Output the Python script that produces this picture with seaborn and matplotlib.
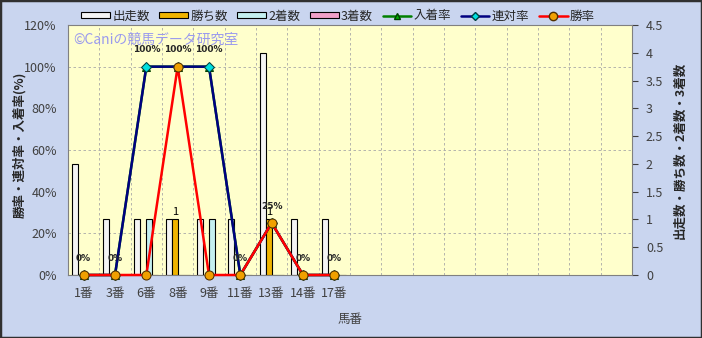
import numpy as np
import pandas as pd
import matplotlib
matplotlib.use("Agg")
import matplotlib.pyplot as plt
from matplotlib.ticker import FixedLocator
from matplotlib.patches import Patch, Rectangle
from matplotlib.lines import Line2D
import seaborn as sns

# ---------------- data ----------------
horses = ["1番", "3番", "6番", "8番", "9番", "11番", "13番", "14番", "17番"]
n_slots = 18
runs = [2, 1, 1, 1, 1, 1, 4, 1, 1]          # 出走数
wins = [0, 0, 0, 1, 0, 0, 1, 0, 0]          # 勝ち数
seconds = [0, 0, 1, 0, 1, 0, 0, 0, 0]       # 2着数
thirds = [0, 0, 0, 0, 0, 0, 0, 0, 0]        # 3着数
place_rate = [0, 0, 100, 100, 100, 0, 25, 0, 0]   # 入着率
rentai_rate = [0, 0, 100, 100, 100, 0, 25, 0, 0]  # 連対率
win_rate = [0, 0, 0, 100, 0, 0, 25, 0, 0]         # 勝率

bar_names = ["出走数", "勝ち数", "2着数", "3着数"]
bar_colors = ["#f4f4f4", "#f0b400", "#c4f0f0", "#f0a0c8"]
pct_max, cnt_max = 120, 4.5

sns.set_style("white")
plt.rcParams["font.family"] = ["Noto Sans CJK JP", "DejaVu Sans"]

pos = np.arange(len(horses))
df = pd.DataFrame({
    "pos": np.tile(pos, 4),
    "series": np.repeat(bar_names, len(horses)),
    "value": runs + wins + seconds + thirds,
})

bg = "#c9d5ef"
fig = plt.figure(figsize=(7.02, 3.38), dpi=100, facecolor=bg)
axb = fig.add_axes([68 / 702, 1 - 275 / 338, 564 / 702, 250 / 338])
axb.set_facecolor("#ffffcc")

sns.barplot(data=df, x="pos", y="value", hue="series", hue_order=bar_names,
            palette=bar_colors, native_scale=True, width=0.77,
            edgecolor="black", linewidth=0.8, ax=axb, legend=False,
            errorbar=None, saturation=1)
axb.set_xlim(-0.5, n_slots - 0.5)
axb.set_ylim(0, cnt_max)

# twin axis for lines (percent)
axl = axb.twinx()

# grid (percent ticks, expressed in count units) on bar axis, behind bars
pct_ticks = np.arange(0, pct_max + 1, 20)
axb.set_axisbelow(True)
axb.yaxis.set_minor_locator(FixedLocator(pct_ticks * cnt_max / pct_max))
axb.xaxis.set_minor_locator(FixedLocator(np.arange(-0.5, n_slots, 1)))
axb.grid(which="minor", color="#a8a8a8", lw=0.6, ls=(0, (3, 3)))
axb.grid(which="major", visible=False)
axb.tick_params(which="minor", length=0)

axb.yaxis.tick_right()
axb.yaxis.set_label_position("right")
cnt_ticks = np.arange(0, cnt_max + 0.01, 0.5)
axb.set_yticks(cnt_ticks)
axb.set_yticklabels([f"{v:g}" for v in cnt_ticks], color="#404040", fontsize=9)
axb.tick_params(axis="y", which="major", length=4, color="#404040", direction="out", pad=6)
axb.set_ylabel("出走数・勝ち数・2着数・3着数", fontsize=9, fontweight="bold",
               rotation=90, va="center", ha="center")
axb.yaxis.set_label_coords((680 - 68) / 564, 0.5)
axb.set_xticks(pos)
axb.set_xticklabels(horses, color="#404040", fontsize=9)
axb.tick_params(axis="x", length=0, pad=9)
axb.set_xlabel("")
for s in axb.spines.values():
    s.set_color("#808080")
    s.set_linewidth(0.8)

# value label on win count bars
for p, w in zip(pos, wins):
    if w > 0:
        axb.annotate(f"{w}", (p, w), xytext=(-2, 2), textcoords="offset points",
                     ha="center", va="bottom", fontsize=8, color="black")

axl.yaxis.tick_left()
axl.yaxis.set_label_position("left")
axl.set_ylim(0, pct_max)
axl.set_yticks(pct_ticks)
axl.set_yticklabels([f"{int(v)}%" for v in pct_ticks], color="#404040", fontsize=9)
axl.tick_params(axis="y", length=0, pad=8)
axl.set_ylabel("勝率・連対率・入着率(%)", fontsize=9, fontweight="bold",
               va="center", ha="center")
axl.yaxis.set_label_coords((20 - 68) / 564, 0.52)
for s in axl.spines.values():
    s.set_visible(False)

sns.lineplot(x=pos, y=place_rate, ax=axl, color="#008000", lw=1.8, marker="^",
             markersize=6, markerfacecolor="#00b000", markeredgecolor="#004000",
             clip_on=False, zorder=3)
sns.lineplot(x=pos, y=rentai_rate, ax=axl, color="#000080", lw=1.8, marker="D",
             markersize=5, markerfacecolor="#00e0e0", markeredgecolor="#004040",
             clip_on=False, zorder=4)
sns.lineplot(x=pos, y=win_rate, ax=axl, color="#ff0000", lw=1.8, marker="o",
             markersize=6.5, markerfacecolor="#f0a000", markeredgecolor="#503000",
             clip_on=False, zorder=5)
axl.set_xlim(-0.5, n_slots - 0.5)

for p, r in zip(pos, rentai_rate):
    axl.annotate(f"{r:g}%", (p, r), xytext=(0, 12), textcoords="offset points",
                 ha="center", va="center", fontsize=6.5, fontweight="bold",
                 family=["DejaVu Sans"], zorder=6)

# watermark
axl.text(0.01, 0.94, "©Caniの競馬データ研究室", transform=axl.transAxes,
         fontsize=10, color="#9a9aee", ha="left", va="center")

# x axis title
fig.text(350 / 702, 1 - 319 / 338, "馬番", ha="center", va="center",
         fontsize=9, color="#404040")

# legend
handles = [Patch(facecolor=c, edgecolor="black", lw=0.8) for c in bar_colors]
handles += [
    Line2D([], [], color="#008000", lw=1.8, marker="^", markersize=5,
           markerfacecolor="#00b000", markeredgecolor="#004000"),
    Line2D([], [], color="#000080", lw=1.8, marker="D", markersize=4,
           markerfacecolor="#00e0e0", markeredgecolor="#004040"),
    Line2D([], [], color="#ff0000", lw=1.8, marker="o", markersize=6,
           markerfacecolor="#f0a000", markeredgecolor="#503000"),
]
labels = bar_names + ["入着率", "連対率", "勝率"]
fig.legend(handles, labels, loc="center", bbox_to_anchor=(338 / 702, 1 - 16 / 338),
           ncol=7, frameon=False, fontsize=9, handlelength=2.3, handleheight=0.45,
           handletextpad=0.2, columnspacing=0.75, borderpad=0)

fig.patches.append(Rectangle((0, 0), 1, 1, transform=fig.transFigure, fill=False,
                             edgecolor="#303030", lw=2.5))

fig.savefig("out.png", dpi=100, facecolor=bg)
